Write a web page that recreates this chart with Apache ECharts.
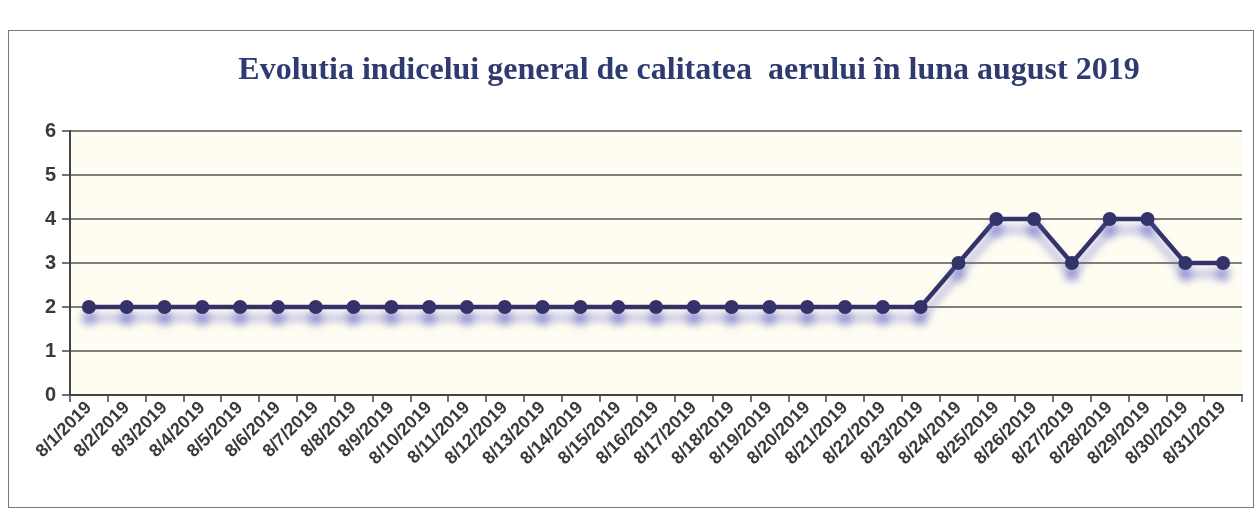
<!DOCTYPE html>
<html><head><meta charset="utf-8">
<script src="https://cdn.jsdelivr.net/npm/echarts@6/dist/echarts.min.js"></script>
<style>html,body{margin:0;padding:0;background:#fff}#c{width:1259px;height:515px}
#box{position:absolute;left:8px;top:30px;width:1246px;height:478px;border:1.5px solid #777;box-sizing:border-box}</style>
</head><body><div id="box"></div><div id="c" style="position:absolute;left:0;top:0"></div>
<script>
const categories = ['8/1/2019','8/2/2019','8/3/2019','8/4/2019','8/5/2019','8/6/2019','8/7/2019','8/8/2019','8/9/2019','8/10/2019','8/11/2019','8/12/2019','8/13/2019','8/14/2019','8/15/2019','8/16/2019','8/17/2019','8/18/2019','8/19/2019','8/20/2019','8/21/2019','8/22/2019','8/23/2019','8/24/2019','8/25/2019','8/26/2019','8/27/2019','8/28/2019','8/29/2019','8/30/2019','8/31/2019'];
const values = [2,2,2,2,2,2,2,2,2,2,2,2,2,2,2,2,2,2,2,2,2,2,2,3,4,4,3,4,4,3,3];
const titleText = 'Evolutia indicelui general de calitatea  aerului în luna august 2019';

const chart = echarts.init(document.getElementById('c'));
chart.setOption({
  backgroundColor: 'transparent',
  animation: false,
  title: {
    text: titleText, left: 684, top: 50, textAlign: 'center',
    textStyle: {fontFamily: 'Liberation Serif', fontWeight: 'bold', fontSize: 32, color: '#2f3a70'}
  },
  grid: {left: 70, right: 17, top: 131, bottom: 120, backgroundColor: '#fffdf2', show: true, borderWidth: 0},
  xAxis: {
    type: 'category', data: categories, boundaryGap: true,
    axisLine: {lineStyle: {color: '#444', width: 2}},
    axisTick: {show: true, length: 7, lineStyle: {color: '#444', width: 1.5}},
    axisLabel: {rotate: 45, interval: 0, fontFamily: 'Liberation Sans', fontWeight: 'bold', fontSize: 18, color: '#3a3a3a', margin: 10}
  },
  yAxis: {
    type: 'value', min: 0, max: 6, interval: 1,
    axisLine: {show: true, lineStyle: {color: '#444', width: 2}},
    axisTick: {show: true, length: 8, lineStyle: {color: '#444', width: 1.5}},
    axisLabel: {fontFamily: 'Liberation Sans', fontWeight: 'bold', fontSize: 20, color: '#3a3a3a', margin: 14},
    splitLine: {lineStyle: {color: '#555', width: 1.5}}
  },
  series: [{
    type: 'line', data: values,
    symbol: 'circle', symbolSize: 14,
    lineStyle: {color: '#33336a', width: 4.5, shadowColor: 'rgba(100,100,200,0.6)', shadowBlur: 8, shadowOffsetY: 11},
    itemStyle: {color: '#33336a', shadowColor: 'rgba(100,100,200,0.6)', shadowBlur: 8, shadowOffsetY: 11}
  }]
});
</script></body></html>
